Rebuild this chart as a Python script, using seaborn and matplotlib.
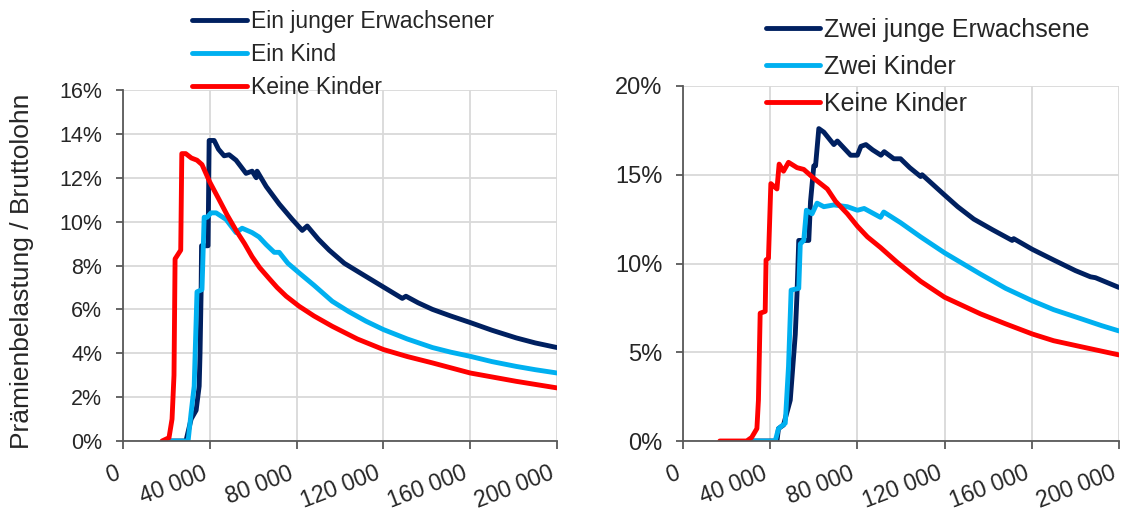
import pandas as pd
import seaborn as sns
import matplotlib
matplotlib.use('Agg')
import matplotlib.pyplot as plt
from matplotlib.ticker import FuncFormatter, MultipleLocator

# --- left panel: one young adult ---
l_navy_x = [21500, 29000, 31400, 33700, 35100, 35500, 36000, 36200, 39200, 39700, 42000, 44000,
            46600, 48900, 52100, 56700, 59500, 61400, 61800, 66000, 72000, 78000, 82600, 84900,
            90000, 95000, 102000, 110300, 119500, 128700, 130400, 136000, 142600, 151000, 160000,
            170000, 181200, 190000, 200000]
l_navy_y = [0, 0, 1.0, 1.4, 2.5, 4.0, 6.8, 8.9, 8.9, 13.7, 13.7, 13.3,
            13.0, 13.05, 12.8, 12.2, 12.3, 12.0, 12.3, 11.6, 10.8, 10.1, 9.6, 9.8,
            9.2, 8.7, 8.1, 7.6, 7.05, 6.5, 6.6, 6.3, 6.0, 5.7, 5.4,
            5.05, 4.7, 4.47, 4.26]

l_blue_x = [21500, 30000, 31400, 32800, 34100, 36400, 37400, 38800, 40600, 42900, 47500, 52100,
            54900, 59500, 62700, 66000, 69700, 72000, 76000, 81200, 88000, 96400, 104000, 112000,
            120000, 131000, 142600, 151000, 160000, 170000, 181200, 190000, 200000]
l_blue_y = [0, 0, 1.3, 2.5, 6.8, 6.9, 10.2, 10.2, 10.4, 10.4, 10.1, 9.5,
            9.7, 9.5, 9.3, 8.95, 8.6, 8.6, 8.1, 7.66, 7.1, 6.37, 5.9, 5.46,
            5.08, 4.65, 4.26, 4.05, 3.86, 3.62, 3.4, 3.25, 3.1]

l_red_x = [18000, 21200, 22600, 23500, 24000, 26600, 27100, 28900, 31500, 34100, 36400, 40000,
           44300, 48000, 52100, 56000, 59500, 63000, 67400, 71000, 75200, 81200, 88000, 96400,
           108000, 120000, 131000, 142600, 160000, 181200, 200000]
l_red_y = [0, 0.15, 1.0, 3.0, 8.3, 8.7, 13.1, 13.1, 12.9, 12.8, 12.6, 11.8,
           11.0, 10.3, 9.6, 9.0, 8.4, 7.9, 7.4, 7.0, 6.6, 6.14, 5.7, 5.23,
           4.65, 4.17, 3.85, 3.56, 3.1, 2.72, 2.42]

# --- right panel: two young adults ---
r_navy_x = [30800, 43100, 43800, 46100, 49200, 51500, 52300, 53100, 57700, 58500, 60000, 60800,
            62300, 64600, 69200, 70800, 76900, 80000, 81600, 83900, 87000, 90800, 92300, 96700,
            99800, 104000, 109000, 109700, 119600, 126000, 133400, 142000, 151000, 151700, 160200,
            170000, 180000, 186900, 189200, 200000]
r_navy_y = [0, 0, 0.7, 0.9, 2.3, 6.0, 8.3, 11.3, 11.3, 13.5, 15.5, 15.5,
            17.6, 17.4, 16.7, 16.9, 16.1, 16.1, 16.6, 16.7, 16.4, 16.1, 16.3, 15.9,
            15.9, 15.4, 14.9, 15.0, 13.9, 13.2, 12.5, 11.9, 11.3, 11.4, 10.8,
            10.2, 9.6, 9.25, 9.2, 8.65]

r_blue_x = [31400, 42300, 43800, 46900, 48400, 49600, 53100, 53800, 55400, 56600, 59200, 61500,
            64600, 69200, 75400, 80000, 83100, 90600, 92100, 99800, 109000, 120000, 136500, 148000,
            160200, 170000, 182300, 192000, 200000]
r_blue_y = [0, 0, 0.7, 1.0, 4.2, 8.5, 8.6, 11.1, 11.3, 13.0, 12.8, 13.4,
            13.2, 13.3, 13.2, 13.0, 13.1, 12.6, 12.9, 12.3, 11.5, 10.6, 9.4, 8.6,
            7.9, 7.4, 6.9, 6.5, 6.2]

r_red_x = [16900, 29200, 31500, 33900, 34600, 35400, 37700, 38100, 39200, 40300, 43100, 44100,
           46100, 48400, 52300, 55400, 60000, 66200, 70000, 75400, 80000, 84600, 90600, 98300,
           109000, 120000, 136500, 148000, 160200, 170000, 182300, 200000]
r_red_y = [0, 0, 0.2, 0.7, 2.3, 7.2, 7.3, 10.2, 10.3, 14.5, 14.2, 15.6,
           15.2, 15.7, 15.4, 15.3, 14.8, 14.2, 13.5, 12.8, 12.1, 11.5, 10.9, 10.06,
           9.0, 8.1, 7.16, 6.6, 6.03, 5.65, 5.32, 4.85]

left_labels = ['Ein junger Erwachsener', 'Ein Kind', 'Keine Kinder']
right_labels = ['Zwei junge Erwachsene', 'Zwei Kinder', 'Keine Kinder']
colors = ['#002060', '#00B0F0', '#FF0000']
x_ticks = [0, 40000, 80000, 120000, 160000, 200000]


def long_df(series, labels):
    frames = []
    for (xs, ys), lab in zip(series, labels):
        frames.append(pd.DataFrame({'lohn': xs, 'belastung': ys, 'gruppe': lab}))
    return pd.concat(frames, ignore_index=True)


df_left = long_df([(l_navy_x, l_navy_y), (l_blue_x, l_blue_y), (l_red_x, l_red_y)], left_labels)
df_right = long_df([(r_navy_x, r_navy_y), (r_blue_x, r_blue_y), (r_red_x, r_red_y)], right_labels)

sns.set_style('white')
plt.rcParams['font.family'] = ['Liberation Sans', 'DejaVu Sans']
text_col = '#262626'

fig = plt.figure(figsize=(11.23, 5.11), dpi=100)
ax1 = fig.add_axes([123 / 1123, 70 / 511, 434 / 1123, 351 / 511])
ax2 = fig.add_axes([683 / 1123, 70 / 511, 436 / 1123, 355 / 511])

# axis, data, labels, ymax, ystep, legend anchor, legend font, row gap, handle length, tick fonts
panels = [(ax1, df_left, left_labels, 16, 2, (192 / 1123, 1 - 10 / 511), 16.5, 0.43, 2.4, 15.5, 16.5),
          (ax2, df_right, right_labels, 20, 5, (766 / 1123, 1 - 17.5 / 511), 18, 0.53, 2.16, 17, 16.5)]

for ax, df, labels, ymax, ystep, leg_pos, leg_fs, leg_gap, hlen, yfs, xfs in panels:
    sns.lineplot(data=df, x='lohn', y='belastung', hue='gruppe', hue_order=labels,
                 palette=colors, estimator=None, sort=False, linewidth=3.5, ax=ax)
    ax.set_xlim(0, 200000)
    ax.set_ylim(0, ymax)
    ax.set_xticks(x_ticks)
    ax.xaxis.set_major_formatter(FuncFormatter(lambda v, p: f'{v:,.0f}'.replace(',', ' ')))
    ax.yaxis.set_major_locator(MultipleLocator(ystep))
    ax.yaxis.set_major_formatter(FuncFormatter(lambda v, p: f'{v:.0f}%'))
    ax.grid(True, color='#d9d9d9', linewidth=1.3)
    ax.set_axisbelow(True)
    for side in ['top', 'right']:
        ax.spines[side].set_visible(False)
    for side in ['left', 'bottom']:
        ax.spines[side].set_color('#595959')
        ax.spines[side].set_linewidth(1.3)
    ax.tick_params(axis='both', which='major', direction='out', width=1.3,
                   color='#595959', labelcolor=text_col, left=True, bottom=True)
    ax.tick_params(axis='y', length=5, pad=10, labelsize=yfs)
    ax.tick_params(axis='x', length=6, pad=9, labelsize=xfs)
    for lbl in ax.get_xticklabels():
        lbl.set_rotation(21)
        lbl.set_ha('right')
    ax.set_xlabel('')
    ax.set_ylabel('')
    handles, labs = ax.get_legend_handles_labels()
    ax.legend(handles, labs, loc='upper left', bbox_to_anchor=leg_pos, bbox_transform=fig.transFigure,
              frameon=False, fontsize=leg_fs, handlelength=hlen, handletextpad=0.16,
              labelspacing=leg_gap, borderpad=0, borderaxespad=0, labelcolor=text_col)

ax1.set_ylabel('Prämienbelastung / Bruttolohn', fontsize=19, color=text_col)
ax1.yaxis.set_label_coords(-0.205, 0.483)

plt.savefig('out.png', dpi=100)
